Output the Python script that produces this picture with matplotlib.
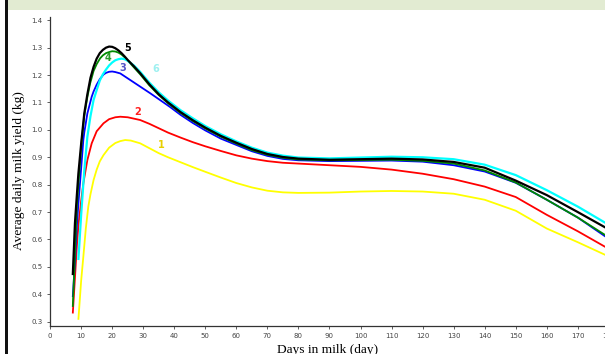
import matplotlib
matplotlib.use("Agg")
import matplotlib.pyplot as plt
from matplotlib.patches import Rectangle
import numpy as np

# ---- data ----
days_5 = [7.3, 8, 8.6, 9.1, 10, 11, 12, 13, 14, 15, 16, 17, 18, 19, 20, 21, 22, 23, 24, 25, 27, 29, 32, 35, 38, 42, 46, 50, 55, 60, 65, 70, 75, 80, 90, 100, 110, 120, 130, 140, 150, 160, 170, 179]
milk_5 = [0.47, 0.66, 0.76, 0.84, 0.95, 1.06, 1.13, 1.19, 1.23, 1.26, 1.28, 1.292, 1.30, 1.304, 1.303, 1.298, 1.29, 1.28, 1.268, 1.255, 1.232, 1.207, 1.166, 1.13, 1.10, 1.065, 1.035, 1.008, 0.978, 0.953, 0.93, 0.912, 0.901, 0.895, 0.891, 0.893, 0.895, 0.892, 0.883, 0.862, 0.815, 0.762, 0.70, 0.643]

days_4 = [7.3, 8, 8.6, 9.1, 10.2, 11, 12, 12.9, 14, 15, 16.1, 17, 18, 19.3, 20, 21, 22, 23, 24, 25, 27, 29, 32, 35, 38, 42, 46, 50, 55, 60, 65, 70, 75, 80, 90, 100, 110, 120, 130, 140, 150, 160, 170, 179]
milk_4 = [0.354, 0.55, 0.72, 0.80, 0.963, 1.05, 1.12, 1.17, 1.215, 1.24, 1.261, 1.272, 1.28, 1.285, 1.287, 1.286, 1.282, 1.275, 1.265, 1.253, 1.228, 1.203, 1.162, 1.127, 1.097, 1.062, 1.032, 1.005, 0.975, 0.95, 0.926, 0.909, 0.898, 0.892, 0.889, 0.89, 0.891, 0.887, 0.877, 0.852, 0.808, 0.745, 0.68, 0.615]

days_6 = [9.1, 10, 11, 12, 13, 14, 15, 16, 17, 18, 19, 20, 21, 22, 23, 24, 25, 27, 29, 32, 35, 38, 42, 46, 50, 55, 60, 65, 70, 75, 80, 90, 100, 110, 120, 130, 140, 150, 160, 170, 179]
milk_6 = [0.525, 0.69, 0.85, 0.975, 1.05, 1.109, 1.145, 1.18, 1.203, 1.22, 1.235, 1.246, 1.254, 1.258, 1.26, 1.258, 1.252, 1.235, 1.212, 1.172, 1.137, 1.107, 1.072, 1.042, 1.014, 0.984, 0.958, 0.935, 0.917, 0.906, 0.899, 0.896, 0.899, 0.902, 0.90, 0.893, 0.873, 0.835, 0.78, 0.72, 0.66]

days_3 = [7.3, 8, 8.6, 9.1, 10, 10.7, 11, 12, 13.4, 14, 15, 16, 17.2, 18, 19, 20, 21, 22.6, 25.8, 29, 32.2, 35.4, 38.7, 42, 46, 50, 55, 60, 65, 70, 75, 80, 90, 100, 110, 120, 130, 140, 150, 160, 170, 179]
milk_3 = [0.39, 0.52, 0.647, 0.73, 0.86, 0.963, 0.99, 1.06, 1.121, 1.14, 1.165, 1.185, 1.202, 1.208, 1.212, 1.213, 1.211, 1.206, 1.182, 1.158, 1.134, 1.109, 1.083, 1.055, 1.025, 0.998, 0.968, 0.945, 0.922, 0.905, 0.894, 0.889, 0.886, 0.887, 0.888, 0.884, 0.871, 0.848, 0.807, 0.745, 0.68, 0.61]

days_2 = [7.3, 8, 8.6, 9.1, 10, 10.7, 12, 13.4, 15, 17.2, 19, 21, 22.6, 25, 29, 32, 35, 38, 42, 46, 50, 55, 60, 65, 70, 75, 80, 90, 100, 110, 120, 130, 140, 150, 160, 170, 179]
milk_2 = [0.33, 0.46, 0.574, 0.65, 0.74, 0.805, 0.89, 0.951, 0.995, 1.024, 1.039, 1.046, 1.048, 1.046, 1.036, 1.022, 1.006, 0.99, 0.972, 0.955, 0.94, 0.923, 0.907, 0.895, 0.886, 0.88, 0.877, 0.871, 0.865, 0.855, 0.84, 0.82, 0.793, 0.755, 0.69, 0.63, 0.572]

days_1 = [9.1, 10, 10.7, 11.5, 12.3, 13, 14, 15, 16, 17.2, 19, 21, 22.6, 24.2, 26, 29, 33, 35, 38, 42, 46, 50, 55, 60, 65, 70, 75, 80, 90, 100, 110, 120, 130, 140, 150, 160, 170, 179]
milk_1 = [0.307, 0.45, 0.537, 0.64, 0.72, 0.765, 0.817, 0.855, 0.885, 0.908, 0.935, 0.952, 0.959, 0.963, 0.961, 0.951, 0.927, 0.915, 0.9, 0.882, 0.864, 0.847, 0.826, 0.806, 0.79, 0.778, 0.772, 0.77, 0.771, 0.775, 0.777, 0.775, 0.767, 0.745, 0.705, 0.64, 0.59, 0.543]

curve_names = ["1", "2", "3", "4", "6", "5"]
x_ticks = list(range(0, 190, 10))
y_ticks = [0.3, 0.4, 0.5, 0.6, 0.7, 0.8, 0.9, 1.0, 1.1, 1.2, 1.3, 1.4]

# ---- figure ----
W, H = 605, 354
fig = plt.figure(figsize=(W / 100, H / 100), dpi=100)
fig.patch.set_facecolor("white")

# decorative frame pieces of the screenshot
fig.patches.append(Rectangle((8 / W, 1 - 10 / H), 1, 10 / H, transform=fig.transFigure,
                             facecolor="#e2ebd2", edgecolor="none", zorder=0))
fig.patches.append(Rectangle((5 / W, 0), 3 / W, 1, transform=fig.transFigure,
                             facecolor="#111111", edgecolor="none", zorder=0))

ax_left = 49.5 / W
ax_bottom = (H - 326) / H
ax_height = (326 - 16.7) / H
x0, x1 = -0.2, 190
ax_width = (x1 - x0) * 3.104 / W
ax = fig.add_axes([ax_left, ax_bottom, ax_width, ax_height])

series = [
    (days_1, milk_1, "#ffff00", 1.3),
    (days_2, milk_2, "#ff0000", 1.3),
    (days_3, milk_3, "#0000ff", 1.3),
    (days_4, milk_4, "#008a00", 1.3),
    (days_6, milk_6, "#00ffff", 1.6),
    (days_5, milk_5, "#000000", 1.6),
]
for d, m, c, lw in series:
    ax.plot(d, m, color=c, lw=lw, solid_capstyle="butt", solid_joinstyle="round")

ax.set_xlim(x0, x1)
ax.set_ylim(0.2843, 1.413)
ax.set_xticks(x_ticks)
ax.set_yticks(y_ticks)
ax.set_xticklabels([str(t) for t in x_ticks])
ax.set_yticklabels([f"{t:.1f}" for t in y_ticks])
ax.tick_params(axis="both", labelsize=5, colors="#444444", length=2.5, width=0.6, pad=2.5)
for s in ["top", "right"]:
    ax.spines[s].set_visible(False)
for s in ["left", "bottom"]:
    ax.spines[s].set_color("#333333")
    ax.spines[s].set_linewidth(0.9)

# curve labels
labels = [
    ("1", 35.8, 0.946, "#e8cf00"),
    ("2", 28.1, 1.067, "#ff2020"),
    ("3", 23.3, 1.225, "#5555c8"),
    ("4", 18.6, 1.262, "#2a9a2a"),
    ("5", 25.0, 1.298, "#000000"),
    ("6", 34.1, 1.221, "#9ef0f0"),
]
for t, dx, vy, c in labels:
    ax.text(dx, vy, t, color=c, fontsize=7, fontweight="bold", ha="center", va="center",
            family="DejaVu Sans")

fig.text(19 / W, 1 - 171 / H, "Average daily milk yield (kg)", rotation=90,
         ha="center", va="center", fontsize=9.6, family="Liberation Serif")
fig.text(328 / W, 1 - 344 / H, "Days in milk (day)", ha="center", va="top",
         fontsize=9.6, family="Liberation Serif")

fig.savefig("out.png", dpi=100)
